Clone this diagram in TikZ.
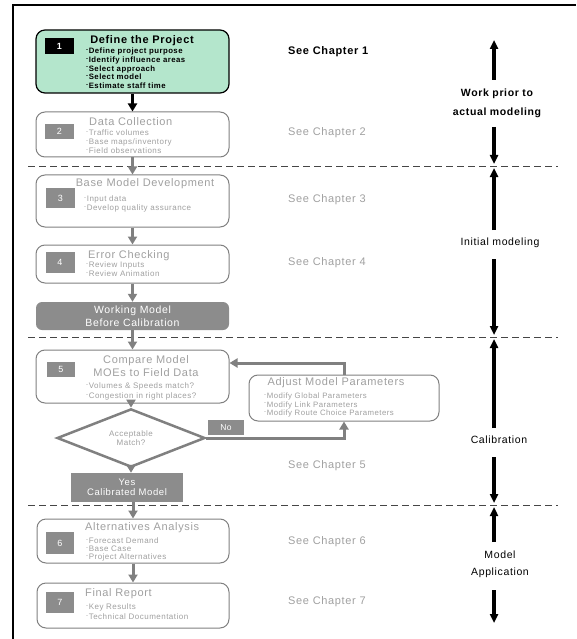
\documentclass[tikz,border=0pt]{standalone}
\usepackage{fontspec}
\setmainfont{Liberation Sans}[LetterSpace=6]
\usetikzlibrary{arrows.meta,shapes.geometric}
\definecolor{mint}{RGB}{180,230,204}
\definecolor{edgegray}{RGB}{128,128,128}
\definecolor{txtgray}{RGB}{160,160,160}
\definecolor{fillgray}{RGB}{140,140,140}
\definecolor{dashgray}{RGB}{70,70,70}
\newcommand{\itemdash}{\raisebox{0.55ex}{\fontsize{6}{6}\selectfont -}\hspace{0.6pt}}
\begin{document}
\begin{tikzpicture}[x=1pt,y=-1pt,
  flowbox/.style={draw=edgegray, line width=1pt, rounded corners=9pt, fill=white,
    minimum width=193pt, inner sep=0pt},
  numsq/.style={fill=fillgray, text=white, minimum width=29pt, inner sep=0pt,
    font=\fontsize{9}{9}\selectfont},
  boxtitle/.style={text=txtgray, font=\fontsize{11}{13}\selectfont, inner sep=0pt, align=center},
  bullets/.style={text=txtgray, inner sep=0pt, anchor=north west, align=left},
  chapter/.style={text=txtgray, font=\fontsize{11}{13}\selectfont, inner sep=0pt, anchor=west},
  sidelabel/.style={font=\fontsize{10.5}{18}\selectfont, inner sep=0pt, align=center},
  flowarrow/.style={draw=edgegray, line width=3pt, -{Triangle[width=9pt,length=8pt]}},
  sidearrow/.style={draw=black, line width=3.2pt, -{Triangle[width=8pt,length=9pt]}},
  divider/.style={draw=dashgray, line width=0.8pt, dash pattern=on 7pt off 4pt},
  darkbox/.style={fill=fillgray, text=white, inner sep=0pt, align=center}
]
\useasboundingbox (0,0) rectangle (576,639);
% frame
\draw[line width=1.5pt] (13,639) -- (13,5) -- (576,5);

% section dividers
\draw[divider] (28,166) -- (558,166);
\draw[divider] (28,337) -- (558,337);
\draw[divider] (28,505) -- (558,505);

% step 1
\node[flowbox, draw=black, line width=1.2pt, fill=mint, minimum height=63pt] (b1) at (132.5,61.5) {};
\node[numsq, fill=black, minimum height=16pt, font=\fontsize{9}{9}\selectfont\bfseries] (s1) at (59.5,46) {1};
\node[boxtitle, text=black, font=\fontsize{11}{13}\selectfont\bfseries] (t1) at (142,40.5) {Define the Project};
\node[bullets, text=black, font=\fontsize{7.8}{8.75}\selectfont\bfseries] (l1) at (86,47.8)
  {\itemdash Define project purpose\\\itemdash Identify influence areas\\\itemdash Select approach\\\itemdash Select model\\\itemdash Estimate staff time};

% step 2
\node[flowbox, minimum height=45pt] (b2) at (132.5,134.5) {};
\node[numsq, minimum height=15pt] (s2) at (59.5,131.5) {2};
\node[boxtitle, anchor=west] (t2) at (89,122) {Data Collection};
\node[bullets, font=\fontsize{8}{9}\selectfont] (l2) at (86,129.8)
  {\itemdash Traffic volumes\\\itemdash Base maps/inventory\\\itemdash Field observations};

% step 3
\node[flowbox, minimum height=52pt] (b3) at (132.5,201) {};
\node[numsq, minimum height=20pt] (s3) at (60.5,198) {3};
\node[boxtitle] (t3) at (145,184) {Base Model Development};
\node[bullets, font=\fontsize{8}{9}\selectfont] (l3) at (84,195.8)
  {\itemdash Input data\\\itemdash Develop quality assurance};

% step 4
\node[flowbox, minimum height=38pt] (b4) at (132.5,264) {};
\node[numsq, minimum height=21pt] (s4) at (60,262.5) {4};
\node[boxtitle, anchor=west] (t4) at (88,256) {Error Checking};
\node[bullets, font=\fontsize{8}{9}\selectfont] (l4) at (86,261.8)
  {\itemdash Review Inputs\\\itemdash Review Animation};

% working model
\node[darkbox, rounded corners=6pt, minimum width=193pt, minimum height=28pt,
  font=\fontsize{10.5}{13}\selectfont] (wm) at (132.5,316) {Working Model\\Before Calibration};

% step 5
\node[flowbox, minimum height=53pt] (b5) at (132.5,376.5) {};
\node[numsq, minimum width=28pt, minimum height=15pt] (s5) at (61,369.5) {5};
\node[boxtitle] (t5) at (146,366.5) {Compare Model\\MOEs to Field Data};
\node[bullets, font=\fontsize{8}{10}\selectfont] (l5) at (86,382.8)
  {\itemdash Volumes \& Speeds match?\\\itemdash Congestion in right places?};

% decision
\node[diamond, draw=edgegray, line width=2.5pt, fill=white, minimum width=148pt, minimum height=40pt,
  inner sep=0pt, align=center, text=txtgray, font=\fontsize{8}{8.5}\selectfont] (dec) at (131,438) {Acceptable\\Match?};
\node[darkbox, minimum width=112pt, minimum height=29pt, font=\fontsize{9.5}{10.5}\selectfont] (yes) at (127,487.5) {Yes\\Calibrated Model};
\node[darkbox, minimum width=36pt, minimum height=15pt, font=\fontsize{8.5}{9}\selectfont] (no) at (226,427.5) {No};

% parameter adjustment
\node[flowbox, minimum width=190pt, minimum height=46pt] (adj) at (344,398) {};
\node[boxtitle] (ta) at (336,383) {Adjust Model Parameters};
\node[bullets, font=\fontsize{7.8}{8.5}\selectfont] (la) at (264,392.8)
  {\itemdash Modify Global Parameters\\\itemdash Modify Link Parameters\\\itemdash Modify Route Choice Parameters};

% step 6
\node[flowbox, minimum width=192pt, minimum height=44pt] (b6) at (133,541) {};
\node[numsq, minimum width=28pt, minimum height=22pt] (s6) at (60,543) {6};
\node[boxtitle, anchor=west] (t6) at (85,528) {Alternatives Analysis};
\node[bullets, font=\fontsize{8}{8}\selectfont] (l6) at (86,537.8)
  {\itemdash Forecast Demand\\\itemdash Base Case\\\itemdash Project Alternatives};

% step 7
\node[flowbox, minimum width=192pt, minimum height=45pt] (b7) at (133,605.5) {};
\node[numsq, minimum width=28pt, minimum height=21pt] (s7) at (60,602.5) {7};
\node[boxtitle, anchor=west] (t7) at (85,594) {Final Report};
\node[bullets, font=\fontsize{8}{10}\selectfont] (l7) at (86,603.8)
  {\itemdash Key Results\\\itemdash Technical Documentation};

% flow connectors
\draw[flowarrow, draw=black] (b1.south) -- (b2.north);
\draw[flowarrow] (b2.south) -- (b3.north);
\draw[flowarrow] (b3.south) -- (b4.north);
\draw[flowarrow] (b4.south) -- (wm.north);
\draw[flowarrow] (wm.south) -- (b5.north);
\draw[flowarrow] (b5.south -| dec.north) -- (dec.north);
\draw[flowarrow] (dec.south) -- (yes.north -| dec.south);
\draw[flowarrow] (yes.south -| b6.north) -- (b6.north);
\draw[flowarrow] (b6.south) -- (b7.north);
\draw[flowarrow] (dec.east) -| (adj.south);
\coordinate (fb) at (344,363);
\draw[flowarrow] (adj.north) -- (fb) -- (b5.east |- fb);

% chapter references
\node[chapter, text=black, font=\fontsize{11}{13}\selectfont\bfseries] (c1) at (288,52) {See Chapter 1};
\node[chapter] (c2) at (288,133) {See Chapter 2};
\node[chapter] (c3) at (288,200) {See Chapter 3};
\node[chapter] (c4) at (288,263) {See Chapter 4};
\node[chapter] (c5) at (288,466) {See Chapter 5};
\node[chapter] (c6) at (288,542) {See Chapter 6};
\node[chapter] (c7) at (288,602) {See Chapter 7};

% phase labels with extent arrows
\node[sidelabel, font=\fontsize{10.5}{19}\selectfont\bfseries] (p1) at (497,103.5) {Work prior to\\actual modeling};
\node[sidelabel] (p2) at (500,243) {Initial modeling};
\node[sidelabel] (p3) at (499,440) {Calibration};
\node[sidelabel, font=\fontsize{10.5}{17}\selectfont] (p4) at (500,564.5) {Model\\Application};

\coordinate (u1a) at (494,80);  \coordinate (u1b) at (494,40);
\coordinate (d1a) at (494,127); \coordinate (d1b) at (494,164);
\coordinate (u2a) at (494,230); \coordinate (u2b) at (494,168);
\coordinate (d2a) at (494,259); \coordinate (d2b) at (494,335);
\coordinate (u3a) at (494,428); \coordinate (u3b) at (494,339);
\coordinate (d3a) at (494,457); \coordinate (d3b) at (494,503);
\coordinate (u4a) at (494,542); \coordinate (u4b) at (494,507);
\coordinate (d4a) at (494,590); \coordinate (d4b) at (494,623);
\foreach \s/\e in {u1a/u1b,d1a/d1b,u2a/u2b,d2a/d2b,u3a/u3b,d3a/d3b,u4a/u4b,d4a/d4b}
  \draw[sidearrow] (\s) -- (\e);
\end{tikzpicture}
\end{document}
